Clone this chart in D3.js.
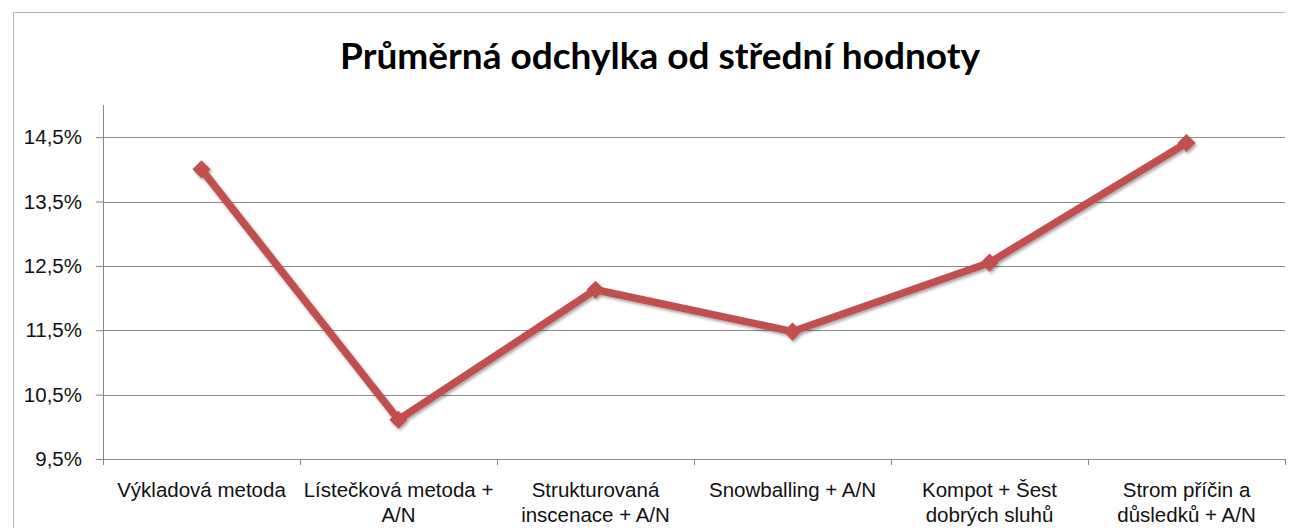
<!DOCTYPE html>
<html>
<head>
<meta charset="utf-8">
<script src="https://cdn.jsdelivr.net/npm/d3@7"></script>
<style>
  body { margin: 0; background: #fff; }
  svg { display: block; font-family: Lato, "Open Sans", sans-serif; }
  .grid line { stroke: #8c8c8c; stroke-width: 1; }
  .axis path, .axis line { stroke: #868686; }
  .axis text { fill: #111; font-size: 20.5px; }
</style>
</head>
<body>
<div id="chart"></div>
<script>
// DATA
var title = "Průměrná odchylka od střední hodnoty"
var categories = [
  "Výkladová metoda",
  "Lístečková metoda +\nA/N",
  "Strukturovaná\ninscenace + A/N",
  "Snowballing + A/N",
  "Kompot + Šest\ndobrých sluhů",
  "Strom příčin a\ndůsledků + A/N"
]
var values = [14.0, 10.11, 12.13, 11.48, 12.55, 14.41]
var yTicks = [9.5, 10.5, 11.5, 12.5, 13.5, 14.5]
var yDomain = [9.5, 15.0]

var W = 1295, H = 528
var margin = {top: 105, right: 10, bottom: 69, left: 103},
    width = W - margin.left - margin.right,
    height = H - margin.top - margin.bottom

var svgRoot = d3.select("#chart").append("svg")
  .attr("width", W).attr("height", H)

// chart frame (screenshot edge of the Excel chart)
svgRoot.append("path")
  .attr("d", "M13.5,528 V12.5 H1285")
  .attr("fill", "none").attr("stroke", "#b4b4b4")

svgRoot.append("text")
  .attr("x", 660).attr("y", 69)
  .attr("text-anchor", "middle")
  .attr("font-weight", "bold")
  .attr("font-size", 37)
  .attr("fill", "#000")
  .text(title)

var svg = svgRoot.append("g")
  .attr("transform", "translate(" + margin.left + "," + margin.top + ")")

// SCALES
var x = d3.scaleBand().domain(categories).range([0, width])
var y = d3.scaleLinear().domain(yDomain).range([height, 0])

// gridlines
svg.append("g").attr("class", "grid")
  .selectAll("line").data(yTicks).enter().append("line")
  .attr("x1", 0).attr("x2", width)
  .attr("y1", function(d) { return Math.round(y(d)) + 0.5 })
  .attr("y2", function(d) { return Math.round(y(d)) + 0.5 })

// AXES
var yAxis = d3.axisLeft(y).tickValues(yTicks).tickSize(7).tickPadding(14)
  .tickFormat(function(d) { return d3.format(".1f")(d).replace(".", ",") + "%" })

var gy = svg.append("g").attr("class", "axis y-axis").call(yAxis)
gy.select(".domain").attr("d", "M0.5," + height + "V0")

var xAxis = d3.axisBottom(x).tickSize(0).tickPadding(0)
var gx = svg.append("g").attr("class", "axis x-axis")
  .attr("transform", "translate(0," + height + ")")
  .call(xAxis)
gx.select(".domain").remove()
gx.selectAll(".tick text").remove()

// category separator ticks
gx.selectAll(".sep").data(d3.range(categories.length + 1)).enter().append("line")
  .attr("class", "sep")
  .attr("x1", function(i) { return Math.round(i * x.step()) + 0.5 })
  .attr("x2", function(i) { return Math.round(i * x.step()) + 0.5 })
  .attr("y1", 0).attr("y2", 6)
  .attr("stroke", "#868686")

gx.selectAll(".tick").append("text")
  .attr("text-anchor", "middle")
  .each(function(d) {
    var t = d3.select(this)
    d.split("\n").forEach(function(line, i) {
      t.append("tspan").attr("x", 0).attr("y", 38 + i * 25).text(line)
    })
  })

// shadow filter
var defs = svgRoot.append("defs")
var f = defs.append("filter").attr("id", "shadow")
  .attr("x", "-20%").attr("y", "-20%").attr("width", "140%").attr("height", "140%")
f.append("feDropShadow").attr("dx", 1.5).attr("dy", 2)
  .attr("stdDeviation", 1.8).attr("flood-color", "#000").attr("flood-opacity", 0.35)

var line = d3.line()
  .x(function(d, i) { return x(categories[i]) + x.bandwidth() / 2 })
  .y(function(d) { return y(d) })

var series = svg.append("g").attr("filter", "url(#shadow)")

series.append("path")
  .datum(values)
  .attr("fill", "none")
  .attr("stroke", "#c0504d")
  .attr("stroke-width", 7.5)
  .attr("stroke-linejoin", "round")
  .attr("d", line)

series.selectAll(".marker").data(values).enter().append("path")
  .attr("class", "marker")
  .attr("d", d3.symbol().type(d3.symbolDiamond2).size(210))
  .attr("fill", "#c0504d")
  .attr("transform", function(d, i) {
    return "translate(" + (x(categories[i]) + x.bandwidth() / 2) + "," + y(d) + ")"
  })
</script>
</body>
</html>
